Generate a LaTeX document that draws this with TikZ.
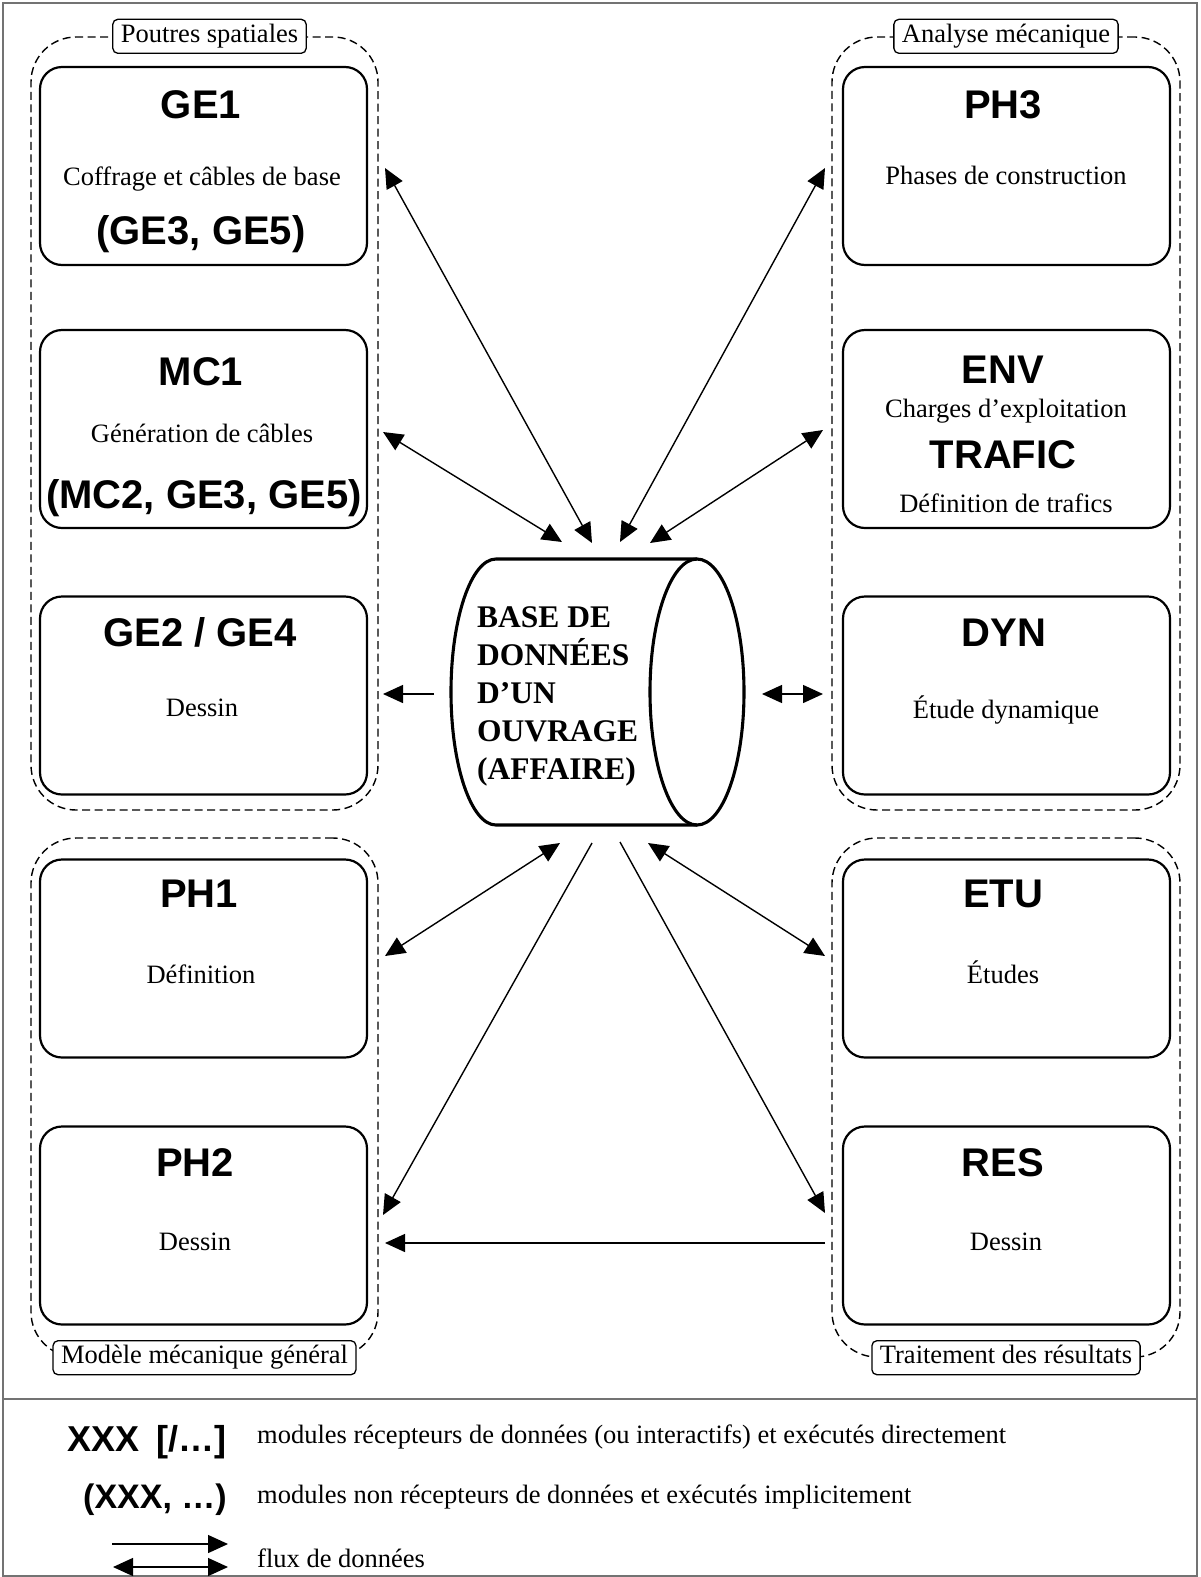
\documentclass[tikz,border=0pt]{standalone}
\usepackage{fontspec}
\setmainfont{Liberation Serif}
\setsansfont{Liberation Sans}
\usetikzlibrary{arrows.meta}

\begin{document}
\begin{tikzpicture}[x=1pt,y=-1pt,
  modbox/.style={draw,line width=2.2pt,rounded corners=22pt,minimum width=327pt,minimum height=198pt,inner sep=0pt},
  grp/.style={draw,line width=1.4pt,dash pattern=on 8pt off 4.5pt,rounded corners=45pt,inner sep=0pt},
  grplabel/.style={draw,fill=white,line width=1.3pt,rounded corners=5pt,inner xsep=8pt,inner ysep=5pt,
    text height=18pt,text depth=6pt,font=\fontsize{26.5}{30}\selectfont},
  ttl/.style={anchor=base,font=\fontsize{40}{44}\selectfont\sffamily\bfseries,inner sep=0pt},
  txt/.style={anchor=base,font=\fontsize{26.5}{30}\selectfont,inner sep=0pt},
  tip/.tip={Triangle[length=20pt,width=18pt]},
  flow/.style={line width=1.4pt,-tip},
  bflow/.style={line width=1.4pt,tip-tip},
  frame/.style={draw=black!55,line width=1.6pt},
  cyl/.style={line width=3.1pt},
]
\useasboundingbox (0,0) rectangle (1200,1577);
\draw[frame] (3,3) rectangle (1197,1576);
\draw[frame] (3,1399) -- (1197,1399);

% groups
\node[grp,minimum width=347pt,minimum height=773pt] (g1) at (204.5,423.5) {};
\node[grp,minimum width=347pt,minimum height=519pt] (g2) at (204.5,1097.5) {};
\node[grp,minimum width=348pt,minimum height=773pt] (g3) at (1006,423.5) {};
\node[grp,minimum width=348pt,minimum height=519pt] (g4) at (1006,1097.5) {};
\node[grplabel] (l1) at ([xshift=5pt]g1.north) {Poutres spatiales};
\node[grplabel] (l2) at (g2.south) {Modèle mécanique général};
\node[grplabel] (l3) at (g3.north) {Analyse mécanique};
\node[grplabel] (l4) at (g4.south) {Traitement des résultats};

% module boxes
\node[modbox] (ge1) at (203.5,166) {};
\node[modbox] (mc1) at (203.5,429) {};
\node[modbox] (ge2) at (203.5,695.5) {};
\node[modbox] (ph1) at (203.5,958.5) {};
\node[modbox] (ph2) at (203.5,1225.5) {};
\node[modbox] (ph3) at (1006.5,166) {};
\node[modbox] (env) at (1006.5,429) {};
\node[modbox] (dyn) at (1006.5,695.5) {};
\node[modbox] (etu) at (1006.5,958.5) {};
\node[modbox] (res) at (1006.5,1225.5) {};

% texts left
\node[ttl] (t-ge1) at (201,118) {GE1};
\node[txt] (d-ge1) at (202,185) {Coffrage et câbles de base};
\node[ttl] (p-ge1) at (201,244) {(GE3, GE5)};
\node[ttl] (t-mc1) at (201,385) {MC1};
\node[txt] (d-mc1) at (202,442) {Génération de câbles};
\node[ttl] (p-mc1) at (204,508) {(MC2, GE3, GE5)};
\node[ttl] (t-ge2) at (200,646) {GE2 / GE4};
\node[txt] (d-ge2) at (202,716) {Dessin};
\node[ttl] (t-ph1) at (199,907) {PH1};
\node[txt] (d-ph1) at (201,983) {Définition};
\node[ttl] (t-ph2) at (195,1176) {PH2};
\node[txt] (d-ph2) at (195,1250) {Dessin};
% texts right
\node[ttl] (t-ph3) at (1003,118) {PH3};
\node[txt] (d-ph3) at (1006,184) {Phases de construction};
\node[ttl] (t-env) at (1003,383) {ENV};
\node[txt] (d-env) at (1006,417) {Charges d’exploitation};
\node[ttl] (t-tra) at (1003,468) {TRAFIC};
\node[txt] (d-tra) at (1006,512) {Définition de trafics};
\node[ttl] (t-dyn) at (1004,646) {DYN};
\node[txt] (d-dyn) at (1006,718) {Étude dynamique};
\node[ttl] (t-etu) at (1003,907) {ETU};
\node[txt] (d-etu) at (1003,983) {Études};
\node[ttl] (t-res) at (1003,1176) {RES};
\node[txt] (d-res) at (1006,1250) {Dessin};

% database cylinder
\draw[cyl] (697,559) -- (496,559) arc[start angle=90,end angle=270,x radius=45pt,y radius=133pt] -- (697,825);
\draw[cyl] (697,692) ellipse[x radius=47pt,y radius=133pt];
\node[anchor=north west,align=left,inner sep=0pt,font=\fontsize{31.5}{38}\selectfont\bfseries] (db) at (477,606)
  {BASE DE\\DONNÉES\\D’UN\\OUVRAGE\\(AFFAIRE)};

% connector end points
\coordinate (dbA) at (592,543);
\coordinate (dbB) at (562,542);
\coordinate (dbC) at (620,542);
\coordinate (dbD) at (650,543);
\coordinate (dbL) at (434,694);
\coordinate (dbR) at (762,694);
\coordinate (dbE) at (560,843);
\coordinate (dbF) at (592,843);
\coordinate (dbG) at (620,842);
\coordinate (dbH) at (648,843);
\coordinate (eGE1) at (385,168);
\coordinate (eMC1) at (383,432);
\coordinate (eGE2) at (383,694);
\coordinate (ePH1) at (385,956);
\coordinate (ePH2) at (383,1215);
\coordinate (ePH2b) at (385,1243);
\coordinate (ePH3) at (825,168);
\coordinate (eENV) at (823,430);
\coordinate (eDYN) at (823,694);
\coordinate (eETU) at (825,956);
\coordinate (eRES) at (825,1213);
\coordinate (eRESb) at (825,1243);

\draw[bflow] (eGE1) -- (dbA);
\draw[bflow] (eMC1) -- (dbB);
\draw[bflow] (ePH3) -- (dbC);
\draw[bflow] (eENV) -- (dbD);
\draw[flow] (dbL) -- (eGE2);
\draw[bflow] (dbR) -- (eDYN);
\draw[bflow] (ePH1) -- (dbE);
\draw[flow] (dbF) -- (ePH2);
\draw[flow] (dbG) -- (eRES);
\draw[bflow] (dbH) -- (eETU);
\draw[flow] (eRESb) -- (ePH2b);

% legend
\node[anchor=base east,inner sep=0pt,font=\fontsize{36}{40}\selectfont\sffamily\bfseries] (k1) at (227,1451) {XXX\hspace{7pt} [/…]};
\node[anchor=base east,inner sep=0pt,font=\fontsize{34}{38}\selectfont\sffamily\bfseries] (k2) at (227,1508) {(XXX, …)};
\node[txt,anchor=base west] (k1t) at (257,1443) {modules récepteurs de données (ou interactifs) et exécutés directement};
\node[txt,anchor=base west] (k2t) at (257,1503) {modules non récepteurs de données et exécutés implicitement};
\node[txt,anchor=base west] (k3t) at (257,1567) {flux de données};
\coordinate (la1) at (112,1544);
\coordinate (lb1) at (228,1544);
\coordinate (la2) at (113,1567);
\coordinate (lb2) at (228,1567);
\draw[flow] (la1) -- (lb1);
\draw[bflow] (la2) -- (lb2);
\end{tikzpicture}
\end{document}
